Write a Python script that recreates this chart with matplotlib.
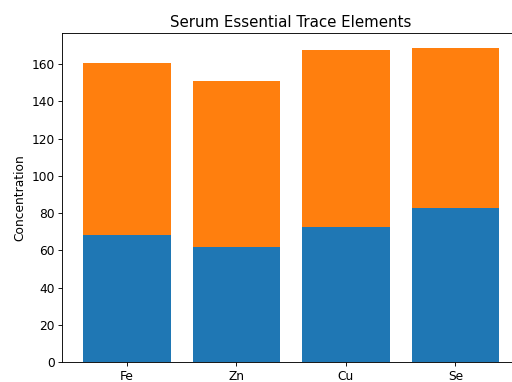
import matplotlib
matplotlib.use("Agg")
import matplotlib.pyplot as plt

elements = ["Fe", "Zn", "Cu", "Se"]
bottom_vals = [68.5, 61.8, 72.6, 82.8]
top_vals = [92.0, 89.0, 95.0, 85.5]

fig = plt.figure(figsize=(6.4, 4.775), dpi=80)
ax = fig.add_axes([0.1217, 0.0516, 0.894, 0.861])

ax.bar(elements, bottom_vals, width=0.8, color="#1f77b4")
ax.bar(elements, top_vals, width=0.8, bottom=bottom_vals, color="#ff7f0e")

ax.set_xlim(-0.59, 3.59)
ax.set_ylim(0, 176.4)
# the reference is cropped on the right edge, no right spine shows
ax.spines["right"].set_visible(False)
ax.tick_params(labelsize=11)
ax.set_ylabel("Concentration", fontsize=11)
ax.set_title("Serum Essential Trace Elements", fontsize=13.5)

fig.savefig("out.png", dpi=80)
